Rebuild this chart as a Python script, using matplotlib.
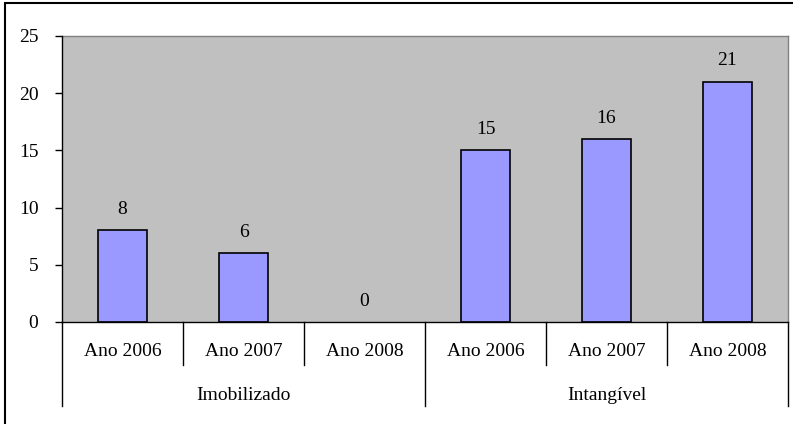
import matplotlib
matplotlib.use("Agg")
import matplotlib.pyplot as plt
from matplotlib.transforms import blended_transform_factory
from matplotlib.patches import Rectangle

groups = ["Imobilizado", "Intangível"]
years = ["Ano 2006", "Ano 2007", "Ano 2008"]
values = [8, 6, 0, 15, 16, 21]
yticks = [0, 5, 10, 15, 20, 25]

plt.rcParams['font.family'] = ['Liberation Serif', 'DejaVu Serif']
FS = 14

W, H = 793, 424
fig = plt.figure(figsize=(W / 100, H / 100), dpi=100)

# outer border (right/bottom edges fall outside the image)
fig.patches.append(Rectangle((5 / W, -0.05), 1.2, (H - 3) / H + 0.05,
                             transform=fig.transFigure, fill=False,
                             edgecolor='black', linewidth=1.5))

L, T, R, B = 62, 36, 788, 322
ax = fig.add_axes([L / W, (H - B) / H, (R - L) / W, (B - T) / H])
ax.set_facecolor('#C0C0C0')

n = len(values)
x = list(range(n))
bars = ax.bar(x, values, width=0.41, color='#9999FF', edgecolor='black', linewidth=1.2, zorder=2)
for b, v in zip(bars, values):
    if v == 0:
        b.set_linewidth(0)

for xi, v in zip(x, values):
    ax.annotate(str(v), (xi, v), xytext=(0, 15), textcoords='offset points',
                ha='center', va='center', fontsize=FS)

ax.set_xlim(-0.5, n - 0.5)
ax.set_ylim(0, 25)
ax.set_yticks(yticks)
ax.set_yticklabels([str(t) for t in yticks], fontsize=FS)
ax.tick_params(axis='y', direction='out', length=5, width=1, pad=12)
ax.set_xticks([])

for side in ['top', 'right']:
    ax.spines[side].set_color('#808080')
    ax.spines[side].set_linewidth(1.0)
for side in ['left', 'bottom']:
    ax.spines[side].set_color('black')
    ax.spines[side].set_linewidth(1.0)
    ax.spines[side].set_zorder(4)

trans = blended_transform_factory(ax.transData, ax.transAxes)
h = B - T
inner = -(365 - B) / h
outer = -(406 - B) / h
lab1 = -(352 - B) / h
lab2 = -(395 - B) / h

ny = len(years)
for i in range(n + 1):
    xb = i - 0.5
    ylow = outer if i % ny == 0 else inner
    ax.plot([xb, xb], [0, ylow], transform=trans, color='black', lw=1.0, clip_on=False)

for i in range(n):
    ax.text(i, lab1, years[i % ny], transform=trans, ha='center', va='center', fontsize=FS)

for g, name in enumerate(groups):
    xc = g * ny + (ny - 1) / 2
    ax.text(xc, lab2, name, transform=trans, ha='center', va='center', fontsize=FS)

fig.savefig("out.png", dpi=100)
